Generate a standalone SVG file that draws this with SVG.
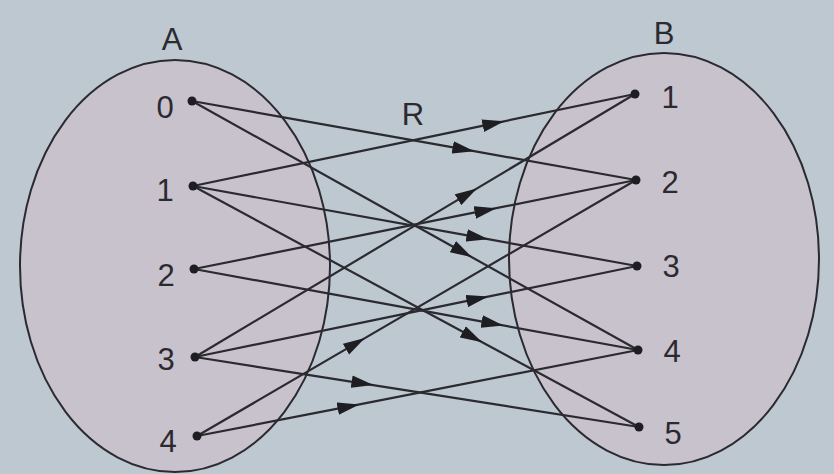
<svg xmlns="http://www.w3.org/2000/svg" width="834" height="474" viewBox="0 0 834 474">
<defs>
<style>
.set{fill:#c8c2cc;stroke:#2b2a30;stroke-width:2}
.lbl{font-family:"Liberation Sans",Arial,sans-serif;fill:#2b2a30;font-size:31px;text-anchor:middle}
.dot{fill:#1e1d22}
.edge{fill:none;stroke:#2b2a30;stroke-width:2.2;marker-mid:url(#arr)}
</style>
<marker id="arr" markerUnits="userSpaceOnUse" markerWidth="22" markerHeight="13" refX="10" refY="6" orient="auto" viewBox="0 0 21 12">
<path d="M0,0 L21,6 L0,12 Z" fill="#1e1d22"/>
</marker>
</defs>
<rect width="834" height="474" fill="#bdc8d0"/>
<g id="setA">
<ellipse class="set" cx="175" cy="266" rx="155" ry="206"/>
<text class="lbl" x="172" y="50" font-size="32">A</text>
</g>
<g id="setB">
<ellipse class="set" cx="664" cy="259" rx="155" ry="206"/>
<text class="lbl" x="664" y="44" font-size="32">B</text>
</g>
<text class="lbl" x="413" y="125" font-size="30">R</text>
<g id="connectors">
<polyline class="edge" points="192,101 463,149.2 636,180"/>
<polyline class="edge" points="192,101 462,251.7 638,350"/>
<polyline class="edge" points="193,186 493,123.6 635,94"/>
<polyline class="edge" points="193,186 477,237.2 637,266"/>
<polyline class="edge" points="193,186 472,336.8 639,427"/>
<polyline class="edge" points="194,269 485,210.4 636,180"/>
<polyline class="edge" points="194,269 492,323.4 638,350"/>
<polyline class="edge" points="195,357 467,194.4 635,94"/>
<polyline class="edge" points="195,357 477,298.9 637,266"/>
<polyline class="edge" points="195,357 362,383.3 639,427"/>
<polyline class="edge" points="197,436 355,343.9 636,180"/>
<polyline class="edge" points="197,436 348,406.6 638,350"/>
</g>
<g id="a0"><circle class="dot" cx="192" cy="101" r="4.5"/><text class="lbl" x="165" y="118">0</text></g>
<g id="a1"><circle class="dot" cx="193" cy="186" r="4.5"/><text class="lbl" x="165" y="201">1</text></g>
<g id="a2"><circle class="dot" cx="194" cy="269" r="4.5"/><text class="lbl" x="166" y="286">2</text></g>
<g id="a3"><circle class="dot" cx="195" cy="357" r="4.5"/><text class="lbl" x="166" y="370">3</text></g>
<g id="a4"><circle class="dot" cx="197" cy="436" r="4.5"/><text class="lbl" x="168" y="452">4</text></g>
<g id="b1"><circle class="dot" cx="635" cy="94" r="4.5"/><text class="lbl" x="670" y="108">1</text></g>
<g id="b2"><circle class="dot" cx="636" cy="180" r="4.5"/><text class="lbl" x="670" y="193">2</text></g>
<g id="b3"><circle class="dot" cx="637" cy="266" r="4.5"/><text class="lbl" x="671" y="277">3</text></g>
<g id="b4"><circle class="dot" cx="638" cy="350" r="4.5"/><text class="lbl" x="672" y="362">4</text></g>
<g id="b5"><circle class="dot" cx="639" cy="427" r="4.5"/><text class="lbl" x="673" y="444">5</text></g>
</svg>
